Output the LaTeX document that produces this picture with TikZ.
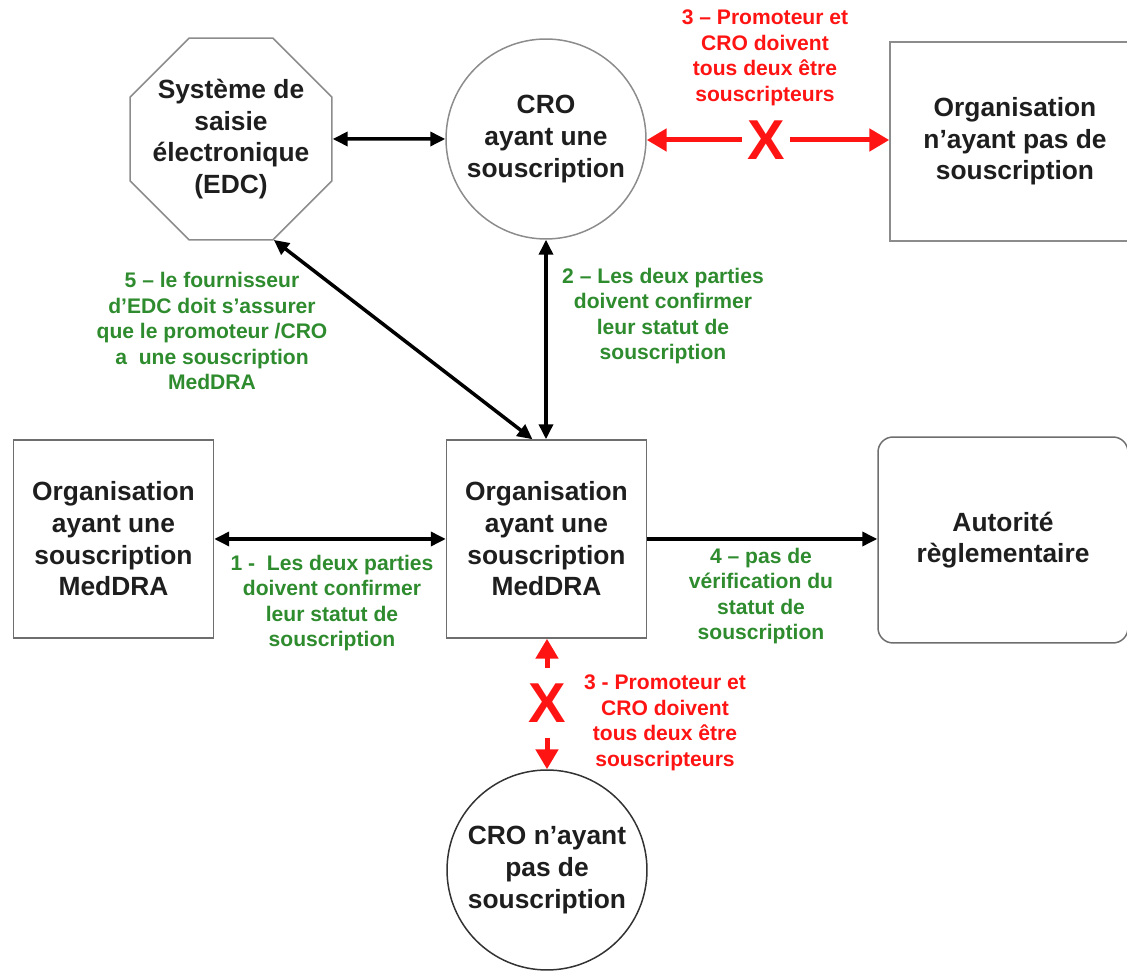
\documentclass[tikz,border=0pt]{standalone}
\usepackage{fontspec}
\setmainfont{Liberation Sans}
\usetikzlibrary{arrows.meta,shapes.geometric}

\definecolor{notegreen}{HTML}{2E8B2E}
\definecolor{notered}{HTML}{FF1414}
\definecolor{edgegray}{HTML}{8C8C8C}
\definecolor{boxgray}{HTML}{6E6E6E}
\definecolor{inkblack}{HTML}{1E1E1E}

\tikzset{
  entity/.style={align=center, inner sep=0pt, line width=0.03cm, text=inkblack,
    font=\bfseries\fontsize{15}{18}\selectfont},
  blockbox/.style={entity, draw=boxgray, minimum width=4cm, minimum height=3.96cm},
  ringnode/.style={entity, circle, minimum size=4cm},
  octnode/.style={entity, draw=edgegray, regular polygon, regular polygon sides=8,
    inner sep=-0.3cm, minimum size=4.37cm},
  greennote/.style={align=center, inner sep=0pt, text=notegreen,
    font=\bfseries\fontsize{12}{14.5}\selectfont},
  rednote/.style={greennote, text=notered},
  crossmark/.style={text=notered, inner xsep=3pt, inner ysep=8.5pt,
    font=\bfseries\fontsize{32}{32}\selectfont},
  biarrow/.style={line width=0.07cm, draw=black,
    {Triangle[length=0.3cm,width=0.28cm]}-{Triangle[length=0.3cm,width=0.28cm]}},
  onearrow/.style={line width=0.07cm, draw=black, -{Triangle[length=0.3cm,width=0.28cm]}},
  redarrow/.style={line width=0.1cm, draw=notered, -{Triangle[length=0.4cm,width=0.44cm]}}
}

\begin{document}
\begin{tikzpicture}[x=0.02cm, y=-0.02cm]
  \useasboundingbox (0,0) rectangle (1127,972);

  % top row
  \node[octnode] (edc) at (231,139) {Système de\\saisie\\électronique\\(EDC)};
  \node[ringnode, draw=edgegray] (cro) at (546,139) {CRO\\ayant une\\souscription};
  \node[blockbox, draw=edgegray, minimum width=5cm, minimum height=3.98cm] (orgnone) at (1015,141.5)
    {Organisation\\n’ayant pas de\\souscription};

  % middle row
  \node[blockbox] (orgleft) at (113.5,539) {Organisation\\ayant une\\souscription\\MedDRA};
  \node[blockbox] (orgmain) at (546.5,539) {Organisation\\ayant une\\souscription\\MedDRA};
  \node[blockbox, rounded corners=0.3cm, minimum width=5cm, minimum height=4.12cm] (auth) at (1003,540)
    {Autorité\\règlementaire};

  % bottom
  \node[ringnode, draw=black!80] (cronone) at (547,870) {CRO n’ayant\\pas de\\souscription};

  % black connectors
  \draw[biarrow] (edc) -- (cro);
  \draw[biarrow] (edc.-67.5) -- (orgmain.98);
  \draw[biarrow] (cro.south) -- (cro.south |- orgmain.north);
  \draw[biarrow] (orgleft) -- (orgmain);
  \draw[onearrow] (orgmain.east) -- (orgmain.east -| auth.west);

  % crossed links
  \node[crossmark] (xtop) at (766,140) {X};
  \draw[redarrow] (xtop.west) -- (xtop.west -| cro.east);
  \draw[redarrow] (xtop.east) -- (xtop.east -| orgnone.west);
  \node[crossmark] (xbot) at (547,703) {X};
  \draw[redarrow] (xbot.north) -- (xbot.north |- orgmain.south);
  \draw[redarrow] (xbot.south) -- (xbot.south |- cronone.north);

  % notes
  \node[rednote] (notetop) at (765,58) {3 – Promoteur et\\CRO doivent\\tous deux être\\souscripteurs};
  \node[rednote] (notebot) at (665,723) {3 - Promoteur et\\CRO doivent\\tous deux être\\souscripteurs};
  \node[greennote] (note5) at (212,331)
    {5 – le fournisseur\\d’EDC doit s’assurer\\que le promoteur /CRO\\a\ \ une souscription\\MedDRA};
  \node[greennote] (note2) at (663,316) {2 – Les deux parties\\doivent confirmer\\leur statut de\\souscription};
  \node[greennote] (note1) at (332,603) {1 -\ \ Les deux parties\\doivent confirmer\\leur statut de\\souscription};
  \node[greennote] (note4) at (761,596) {4 – pas de\\vérification du\\statut de\\souscription};
\end{tikzpicture}
\end{document}
